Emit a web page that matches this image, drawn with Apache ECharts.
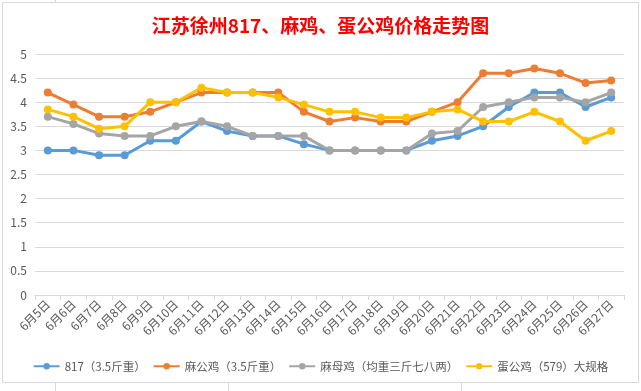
<!DOCTYPE html>
<html><head><meta charset="utf-8">
<script src="https://cdn.jsdelivr.net/npm/echarts@6/dist/echarts.min.js"></script>
<style>html,body{margin:0;padding:0;background:#fff;}#c{width:641px;height:391px;}</style>
</head><body><div id="c"></div>
<script>
const categories = ['6月5日','6月6日','6月7日','6月8日','6月9日','6月10日','6月11日','6月12日','6月13日','6月14日','6月15日','6月16日','6月17日','6月18日','6月19日','6月20日','6月21日','6月22日','6月23日','6月24日','6月25日','6月26日','6月27日'];
const seriesNames = ['817（3.5斤重）','麻公鸡（3.5斤重）','麻母鸡（均重三斤七八两）','蛋公鸡（579）大规格'];
const s817 = [3.0,3.0,2.9,2.9,3.2,3.2,3.6,3.4,3.3,3.3,3.13,3.0,3.0,3.0,3.0,3.2,3.3,3.5,3.9,4.2,4.2,3.9,4.1];
const maGongJi = [4.2,3.95,3.7,3.7,3.8,4.0,4.2,4.2,4.2,4.2,3.8,3.6,3.68,3.6,3.6,3.8,4.0,4.6,4.6,4.7,4.6,4.4,4.45];
const maMuJi = [3.7,3.55,3.35,3.3,3.3,3.5,3.6,3.5,3.3,3.3,3.3,3.0,3.0,3.0,3.0,3.35,3.4,3.9,4.0,4.1,4.1,4.0,4.2];
const danGongJi = [3.85,3.7,3.45,3.5,4.0,4.0,4.3,4.2,4.2,4.1,3.95,3.8,3.8,3.68,3.68,3.8,3.85,3.6,3.6,3.8,3.6,3.2,3.4];
const colors = ['#5B9BD5','#ED7D31','#A5A5A5','#FFC000'];
const allData = [s817, maGongJi, maMuJi, danGongJi];

const chart = echarts.init(document.getElementById('c'), null, {renderer:'canvas'});
const font = '"Noto Sans CJK SC", "Noto Sans", sans-serif';
chart.setOption({
  animation: false,
  backgroundColor: '#fff',
  color: colors,
  title: {
    text: '江苏徐州817、麻鸡、蛋公鸡价格走势图',
    left: 'center', top: 11,
    textStyle: {color:'#FF0000', fontSize:19, fontWeight:'bold', fontFamily: font}
  },
  legend: {
    bottom: 14, left: 'center', itemWidth: 26, itemHeight: 8, itemGap: 7,
    textStyle: {color:'#595959', fontSize:11.5, fontFamily: font},
    data: seriesNames
  },
  grid: {left: 35, right: 17, top: 54, bottom: 96, containLabel: false},
  xAxis: {
    type: 'category', data: categories, boundaryGap: true,
    axisLine: {lineStyle:{color:'#d9d9d9'}},
    axisTick: {show:true, length:5, lineStyle:{color:'#d9d9d9'}},
    axisLabel: {rotate:45, color:'#595959', fontSize:12, fontFamily: font, interval:0, margin:7}
  },
  yAxis: {
    type: 'value', min: 0, max: 5, interval: 0.5,
    axisLine: {show:false}, axisTick: {show:false},
    splitLine: {lineStyle:{color:'#d9d9d9'}},
    axisLabel: {color:'#595959', fontSize:12, fontFamily: font, margin:8}
  },
  series: allData.map((d,i)=>({
    name: seriesNames[i], type:'line', data:d,
    symbol:'circle', symbolSize:8,
    lineStyle:{width:3, color: colors[i]},
    itemStyle:{color: colors[i]}
  })),
  graphic: [
    {type:'rect', shape:{x:2.5,y:2.5,width:636,height:380}, style:{fill:'none', stroke:'#d9d9d9', lineWidth:1}, z:-1},
    {type:'line', shape:{x1:55.5,y1:0,x2:55.5,y2:2}, style:{stroke:'#d9d9d9'}},
    {type:'line', shape:{x1:55.5,y1:383,x2:55.5,y2:391}, style:{stroke:'#d9d9d9'}},
    {type:'line', shape:{x1:228.5,y1:383,x2:228.5,y2:391}, style:{stroke:'#d9d9d9'}},
    {type:'line', shape:{x1:461.5,y1:383,x2:461.5,y2:391}, style:{stroke:'#d9d9d9'}}
  ]
});
</script></body></html>
